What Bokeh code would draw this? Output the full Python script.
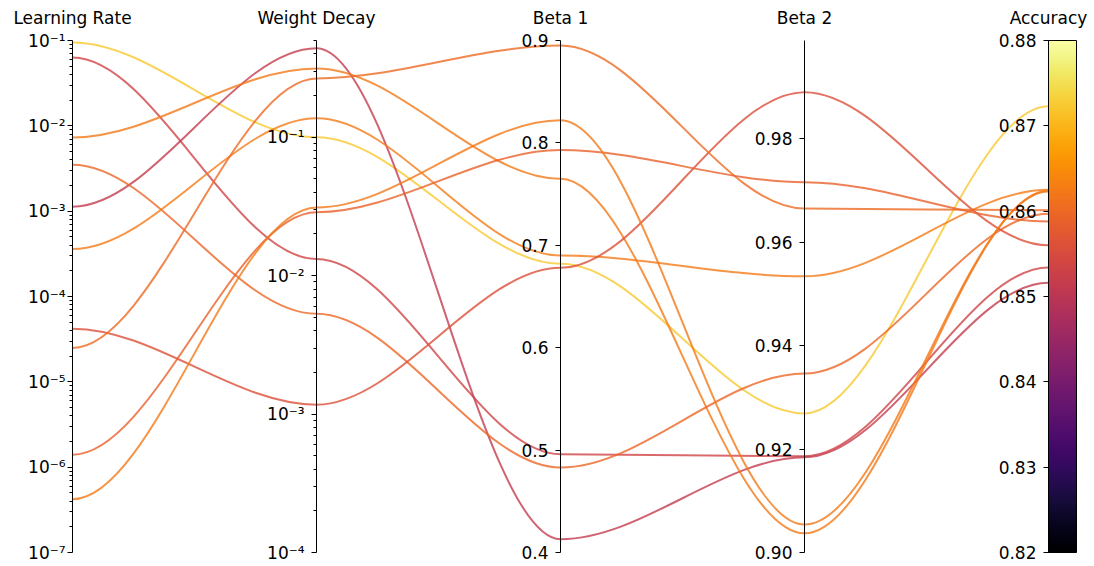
import numpy as np
from bokeh.plotting import figure
from bokeh.models import (Range1d, LogScale, LinearAxis, LogAxis, FixedTicker,
                          CustomJSTickFormatter, PrintfTickFormatter, ColumnDataSource,
                          LinearColorMapper)
from bokeh.palettes import Inferno256
from bokeh.transform import linear_cmap
from bokeh.core.properties import value
from bokeh.embed import file_html
from bokeh.resources import INLINE

# ---------------- data ----------------
axis_names = ["Learning Rate", "Weight Decay", "Beta 1", "Beta 2", "Accuracy"]
learning_rate = [0.095, 0.063, 1.13e-3, 7.3e-3, 3.5e-3, 3.6e-4, 4.2e-5, 2.5e-5, 1.4e-6, 4.2e-7]
weight_decay = [0.100, 0.0132, 0.44, 0.314, 5.3e-3, 0.137, 1.17e-3, 0.266, 0.0287, 0.0311]
beta1 = [0.682, 0.496, 0.413, 0.765, 0.483, 0.690, 0.678, 0.895, 0.793, 0.822]
beta2 = [0.9269, 0.9186, 0.9184, 0.9037, 0.9346, 0.9534, 0.9890, 0.9665, 0.9716, 0.9054]
accuracy = [0.8723, 0.8534, 0.8516, 0.8624, 0.8597, 0.8625, 0.8560, 0.8601, 0.8588, 0.8623]

lr_limits = [1e-7, 1e-1]
wd_limits = [1e-4, 0.5]
b1_limits = [0.4, 0.9]
b2_limits = [0.9, 0.999]
acc_limits = [0.82, 0.88]

lr_ticks = [1e-7, 1e-6, 1e-5, 1e-4, 1e-3, 1e-2, 1e-1]
wd_ticks = [1e-4, 1e-3, 1e-2, 1e-1]
b1_ticks = [0.4, 0.5, 0.6, 0.7, 0.8, 0.9]
b2_ticks = [0.90, 0.92, 0.94, 0.96, 0.98]
acc_ticks = [0.82, 0.83, 0.84, 0.85, 0.86, 0.87, 0.88]

# ---------------- geometry ----------------
W, H = 1094, 566
AX_SPACING = 244.0       # px between axes
AX0 = 72.0               # canvas x of the first axis
Y_TOP, Y_BOT = 40.0, 552.0
SPAN = Y_BOT - Y_TOP
x_start, x_end = -AX0 / AX_SPACING, (W - AX0) / AX_SPACING
y_start, y_end = -(H - Y_BOT) / SPAN, Y_BOT / SPAN
TITLE_Y = (Y_BOT - 17.0) / SPAN
CB_W = 28.0 / AX_SPACING
axis_pos = [0, 1, 2, 3, 4]


def norm_log(v, lim):
    lo, hi = np.log10(lim[0]), np.log10(lim[1])
    return (np.log10(np.asarray(v)) - lo) / (hi - lo)


def norm_lin(v, lim):
    return (np.asarray(v) - lim[0]) / (lim[1] - lim[0])


cols = np.vstack([
    norm_log(learning_rate, lr_limits),
    norm_log(weight_decay, wd_limits),
    norm_lin(beta1, b1_limits),
    norm_lin(beta2, b2_limits),
    norm_lin(accuracy, acc_limits),
]).T  # shape (n_lines, 5)

seg = dict(x0=[], y0=[], x1=[], y1=[], cx0=[], cy0=[], cx1=[], cy1=[], acc=[])
for j in range(cols.shape[0]):
    for i in range(cols.shape[1] - 1):
        a, b = cols[j, i], cols[j, i + 1]
        seg["x0"].append(axis_pos[i]); seg["y0"].append(a)
        seg["x1"].append(axis_pos[i + 1]); seg["y1"].append(b)
        seg["cx0"].append(axis_pos[i] + 1 / 3); seg["cy0"].append(a)
        seg["cx1"].append(axis_pos[i] + 2 / 3); seg["cy1"].append(b)
        seg["acc"].append(accuracy[j])
src = ColumnDataSource(seg)

p = figure(width=W, height=H, x_range=Range1d(x_start, x_end), y_range=Range1d(y_start, y_end),
           x_axis_type=None, y_axis_type=None, output_backend="svg", toolbar_location=None,
           min_border=0)
p.outline_line_color = None
p.grid.visible = False
p.background_fill_color = "white"
p.border_fill_color = "white"


def lin_range(lim):
    return Range1d(lim[0] + (lim[1] - lim[0]) * y_start, lim[0] + (lim[1] - lim[0]) * y_end)


def log_range(lim):
    lo, hi = np.log10(lim[0]), np.log10(lim[1])
    return Range1d(10 ** (lo + (hi - lo) * y_start), 10 ** (lo + (hi - lo) * y_end))


p.extra_y_ranges = {
    "lr": log_range(lr_limits),
    "wd": log_range(wd_limits),
    "b1": lin_range(b1_limits),
    "b2": lin_range(b2_limits),
    "acc": lin_range(acc_limits),
}
p.extra_y_scales = {"lr": LogScale(), "wd": LogScale()}

# curves
p.bezier(x0="x0", y0="y0", x1="x1", y1="y1", cx0="cx0", cy0="cy0", cx1="cx1", cy1="cy1",
         source=src, line_color=linear_cmap("acc", Inferno256, acc_limits[0], acc_limits[1]),
         line_alpha=0.8, line_width=2)

# colorbar
cbar_vals = np.linspace(acc_limits[0], acc_limits[1], 256).reshape(256, 1)
mapper = LinearColorMapper(palette=Inferno256, low=acc_limits[0], high=acc_limits[1])
p.image(image=[cbar_vals], x=axis_pos[4], y=0, dw=CB_W, dh=1, color_mapper=mapper)
p.quad(left=axis_pos[4], right=axis_pos[4] + CB_W, bottom=0, top=1,
       fill_color=None, line_color="black", line_width=1)

sup_js = """
const sup = {"-": "\u207b", "0": "\u2070", "1": "\u00b9", "2": "\u00b2", "3": "\u00b3",
             "4": "\u2074", "5": "\u2075", "6": "\u2076", "7": "\u2077", "8": "\u2078", "9": "\u2079"};
const e = Math.round(Math.log10(tick));
return "10" + String(e).split("").map(c => sup[c]).join("");
"""


def minor_log(lim):
    lo, hi = int(round(np.log10(lim[0]))), int(np.ceil(np.log10(lim[1])))
    out = []
    for e in range(lo, hi):
        for k in range(2, 10):
            v = k * 10.0 ** e
            if v <= lim[1] * 1.0001:
                out.append(v)
    return out


def add_axis(rname, loc, log, ticks, lim, fmt, standoff):
    cls = LogAxis if log else LinearAxis
    minor = minor_log(lim) if log else []
    ax = cls(y_range_name=rname, fixed_location=loc,
             ticker=FixedTicker(ticks=ticks, minor_ticks=minor), formatter=fmt,
             bounds=(lim[0], lim[1]),
             axis_line_color="black", axis_line_width=1,
             major_tick_line_color="black", minor_tick_line_color="black",
             major_tick_out=5, major_tick_in=0, minor_tick_out=3, minor_tick_in=0,
             major_label_text_font="DejaVu Sans", major_label_text_font_size="17px",
             major_label_text_color="black", major_label_standoff=standoff)
    p.add_layout(ax, "left")


add_axis("lr", axis_pos[0], True, lr_ticks, lr_limits, CustomJSTickFormatter(code=sup_js), 2)
add_axis("wd", axis_pos[1], True, wd_ticks, wd_limits, CustomJSTickFormatter(code=sup_js), 7)
add_axis("b1", axis_pos[2], False, b1_ticks, b1_limits, PrintfTickFormatter(format="%.1f"), 7)
add_axis("b2", axis_pos[3], False, b2_ticks, b2_limits, PrintfTickFormatter(format="%.2f"), 7)
add_axis("acc", axis_pos[4], False, acc_ticks, acc_limits, PrintfTickFormatter(format="%.2f"), 7)

# titles
p.text(x=axis_pos, y=[TITLE_Y] * len(axis_pos), text=axis_names, text_align="center",
       text_baseline="middle", text_font=value("DejaVu Sans"), text_font_size="17px",
       text_color="black")

open("out.html", "w").write(file_html(p, INLINE))
